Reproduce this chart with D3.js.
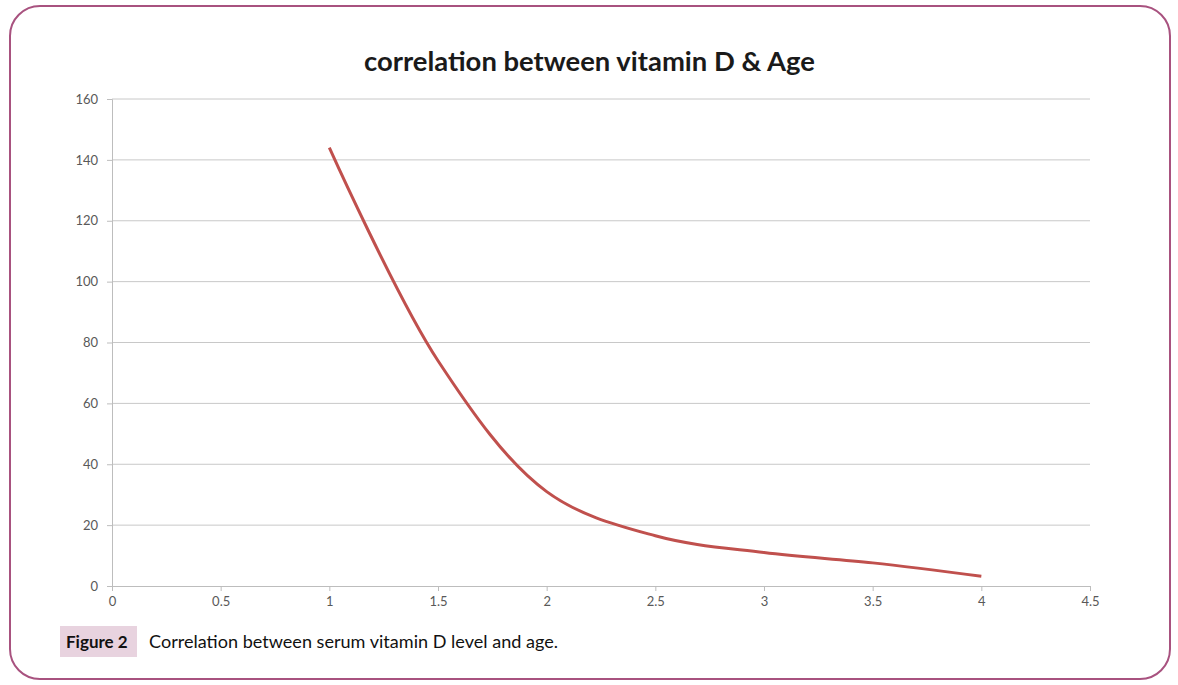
<!DOCTYPE html>
<html>
<head>
    <title></title>
    <meta charset="utf-8" />
    <script src="https://d3js.org/d3.v7.min.js"></script>
    <style>
        body { margin: 0; background: #fff; }
        svg { display: block; font-family: Lato, "Open Sans", sans-serif; }
        .tick text { fill: #595959; font-size: 13px; }
        .grid line { stroke: #c8c8c8; }
    </style>
</head>
<body>
    <script>
        // data
        var ages = [1, 1.5, 2, 2.5, 3, 3.5, 4];
        var vitD = [144, 74, 31, 16.5, 11, 7.6, 3.2];
        var xTicks = [0, 0.5, 1, 1.5, 2, 2.5, 3, 3.5, 4, 4.5];
        var yTicks = [0, 20, 40, 60, 80, 100, 120, 140, 160];

        var width = 1178, height = 685;
        var plotLeft = 112, plotRight = 1090, plotTop = 99, plotBottom = 586;

        var svg = d3.select("body").append("svg")
            .attr("width", width)
            .attr("height", height);

        // frame
        svg.append("rect")
            .attr("x", 10).attr("y", 6)
            .attr("width", 1160).attr("height", 673)
            .attr("rx", 30).attr("ry", 30)
            .attr("fill", "#fff")
            .attr("stroke", "#a8527f")
            .attr("stroke-width", 2);

        var x = d3.scaleLinear().domain([0, 4.5]).range([plotLeft, plotRight]);
        var y = d3.scaleLinear().domain([0, 160]).range([plotBottom, plotTop]);

        // gridlines
        svg.append("g").attr("class", "grid")
            .selectAll("line").data(yTicks.slice(1)).enter()
            .append("line")
            .attr("x1", plotLeft).attr("x2", plotRight)
            .attr("y1", function (d) { return y(d); })
            .attr("y2", function (d) { return y(d); });

        svg.append("g")
            .attr("transform", "translate(" + plotLeft + ",0)")
            .call(d3.axisLeft(y).tickValues(yTicks).tickSize(5).tickPadding(9));

        svg.append("g")
            .attr("transform", "translate(0," + plotBottom + ")")
            .call(d3.axisBottom(x).tickValues(xTicks).tickSize(5).tickPadding(6)
                .tickFormat(function (d) { return d; }));

        svg.selectAll(".domain").attr("stroke", "#bdbdbd");
        svg.selectAll(".tick line").attr("stroke", "#bdbdbd");
        svg.selectAll(".tick text").attr("font-family", "Lato, sans-serif");

        // the line
        var pts = ages.map(function (a, i) { return [a, vitD[i]]; });
        var line = d3.line()
            .x(function (d) { return x(d[0]); })
            .y(function (d) { return y(d[1]); })
            .curve(d3.curveCatmullRom.alpha(0.5));

        svg.append("path")
            .datum(pts)
            .attr("d", line)
            .attr("fill", "none")
            .attr("stroke", "#c0504d")
            .attr("stroke-width", 3);

        // title
        svg.append("text")
            .attr("x", 364).attr("y", 71)
            .attr("font-size", 26)
            .attr("font-weight", "bold")
            .attr("fill", "#1a1a1a")
            .attr("textLength", 451)
            .attr("lengthAdjust", "spacingAndGlyphs")
            .text("correlation between vitamin D & Age");

        // caption
        svg.append("rect")
            .attr("x", 60).attr("y", 626)
            .attr("width", 77).attr("height", 31)
            .attr("fill", "#e8d3df");
        svg.append("text")
            .attr("x", 66).attr("y", 648)
            .attr("font-size", 17).attr("font-weight", "bold")
            .attr("fill", "#111")
            .text("Figure 2");
        svg.append("text")
            .attr("x", 149).attr("y", 648)
            .attr("font-size", 17)
            .attr("fill", "#111")
            .attr("textLength", 409)
            .attr("lengthAdjust", "spacingAndGlyphs")
            .text("Correlation between serum vitamin D level and age.");
    </script>
</body>
</html>
